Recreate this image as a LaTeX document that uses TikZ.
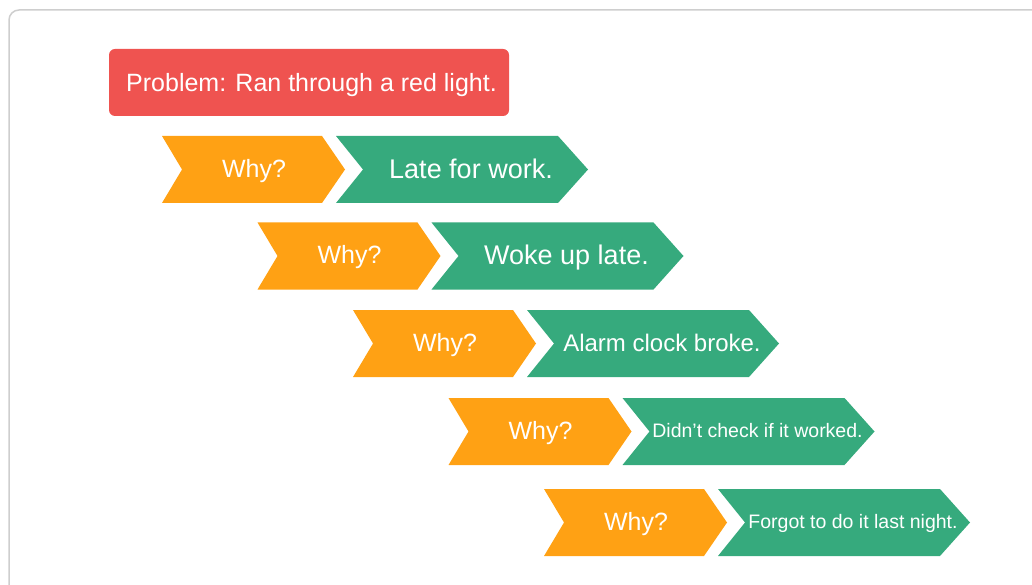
\documentclass[tikz,border=0pt]{standalone}
\usepackage{fontspec}
\setmainfont{Liberation Sans}
\usetikzlibrary{positioning,calc}
\definecolor{probred}{RGB}{239,83,80}
\definecolor{whyorange}{RGB}{255,161,20}
\definecolor{causegreen}{RGB}{54,170,125}
\definecolor{framegray}{RGB}{206,206,206}

\begin{document}
\begin{tikzpicture}[x=1pt,y=-1pt,
		whytext/.style={text=white, inner sep=0, anchor=base},
		causetext/.style={text=white, inner sep=0, anchor=base}]
		\useasboundingbox (0,0) rectangle (1032,585);
		\begin{scope}
			\clip (0,0) rectangle (1032,585);
			\draw[framegray, line width=1.5pt, rounded corners=10pt] (9,10) rectangle (1070,630);
		\end{scope}
		\node[fill=probred, rounded corners=6pt, minimum width=400pt, minimum height=67pt, inner sep=0, text height=21pt, text depth=2pt, text=white, font=\fontsize{25}{30}\selectfont] (problem) at (309,82.5) {\hspace{5pt}Problem: Ran through a red light.};
		
		\foreach \i/\cy/\txt/\fs in {0/169.5/Late for work./27, 1/256/Woke up late./27, 2/343.5/Alarm clock broke./24, 3/431.5/Didn’t check if it worked./19.5, 4/522.5/Forgot to do it last night./19.5} {
			\pgfmathsetmacro{\xl}{162+95.5*\i}
			\pgfmathsetmacro{\xg}{\xl+174}
			% orange chevron
			\fill[whyorange] (\xl,{\cy-33.5}) -- ++(160,0) -- ++(23,33.5) -- ++(-23,33.5) -- ++(-160,0) -- ++(20,-33.5) -- cycle;
			% green chevron
			\fill[causegreen] (\xg,{\cy-33.5}) -- ++(222,0) -- ++(30,33.5) -- ++(-30,33.5) -- ++(-222,0) -- ++(27,-33.5) -- cycle;
			\node[whytext, font=\fontsize{25}{30}\selectfont] (why\i) at ({\xl+92},{\cy+0.31*25}) {Why?};
			\node[causetext, font=\fontsize{\fs}{\fs}\selectfont] (cause\i) at ({\xl+309},{\cy+0.33*\fs}) {\txt};
		}
	\end{tikzpicture}
\end{document}
